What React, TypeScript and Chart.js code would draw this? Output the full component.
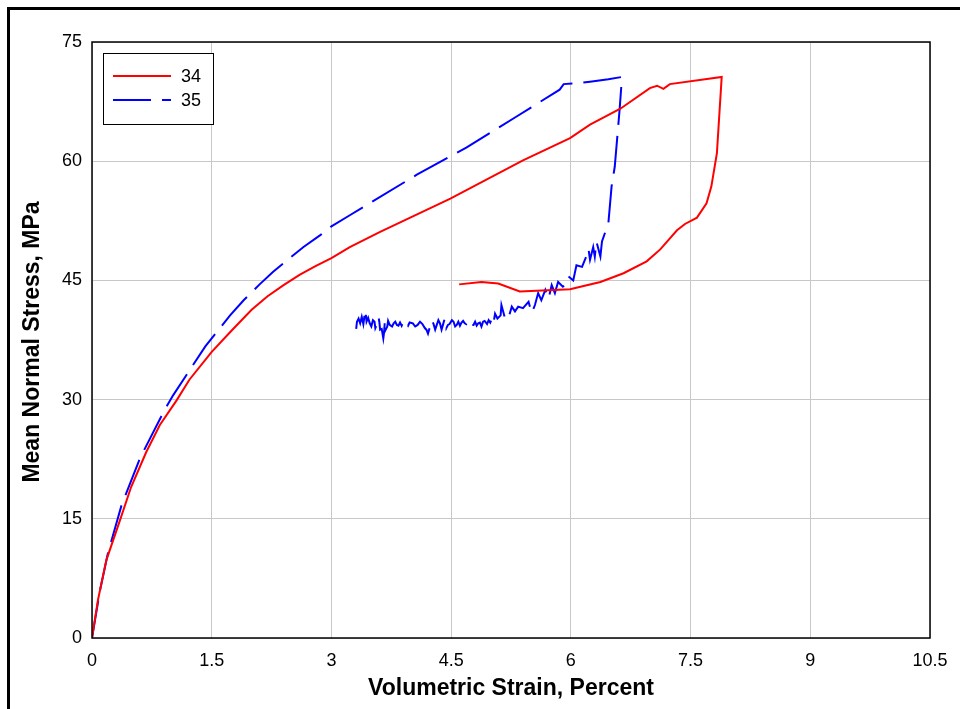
import React, { useEffect, useRef } from "react";
import { Chart, registerables } from "chart.js";

Chart.register(...registerables);

// Series 34 (red, solid): volumetric strain (%) , mean normal stress (MPa)
const strain34 = [0, 0.075, 0.18, 0.35, 0.49, 0.68, 0.85, 1.06, 1.22, 1.5, 1.75, 2.0, 2.2, 2.4, 2.6, 2.8, 3.0, 3.23, 3.61, 4.49, 5.4, 5.99, 6.24, 6.62, 6.99, 7.08, 7.16, 7.24, 7.89, 7.83, 7.76, 7.7, 7.58, 7.43, 7.33, 7.12, 6.95, 6.66, 6.37, 5.99, 5.36, 5.09, 4.88, 4.6];
const stress34 = [0, 4.8, 9.8, 14.8, 19.0, 23.4, 26.8, 29.9, 32.5, 36.0, 38.7, 41.3, 43.0, 44.4, 45.7, 46.8, 47.8, 49.2, 51.1, 55.3, 60.1, 62.9, 64.6, 66.6, 69.2, 69.5, 69.1, 69.7, 70.6, 61.0, 56.8, 54.7, 52.9, 52.1, 51.3, 48.9, 47.4, 45.9, 44.8, 43.9, 43.6, 44.6, 44.8, 44.5];

// Series 35 (blue, dashed)
const strain35 = [0, 0.1, 0.2, 0.37, 0.6, 0.91, 1.02, 1.42, 1.73, 1.9, 2.1, 2.27, 2.44, 2.65, 2.86, 3.0, 3.23, 4.07, 4.69, 5.3, 5.86, 5.91, 6.07, 6.24, 6.47, 6.64, 6.64, 6.61, 6.55, 6.51, 6.47,
  6.39, 6.37, 6.32, 6.3, 6.28, 6.24, 6.22, 6.2, 6.14, 6.07, 6.03, 5.97, 5.95,
  5.9, 5.84, 5.8, 5.76, 5.72, 5.68, 5.63, 5.59, 5.55, 5.51, 5.47, 5.4, 5.34, 5.3, 5.26, 5.21, 5.17, 5.13, 5.12, 5.08, 5.05, 5.03, 5.01, 4.99, 4.97, 4.95, 4.92, 4.9, 4.88, 4.86, 4.84, 4.82, 4.8, 4.78, 4.76, 4.73, 4.71, 4.69, 4.67, 4.65, 4.63, 4.61, 4.59, 4.57, 4.55, 4.53, 4.51, 4.48, 4.46, 4.44, 4.43, 4.42, 4.4, 4.38, 4.36, 4.34, 4.32, 4.3, 4.28, 4.26, 4.23, 4.21, 4.19, 4.17, 4.14, 4.11, 4.08, 4.05, 4.02, 3.98, 3.96, 3.94, 3.92, 3.9, 3.88, 3.86, 3.84, 3.82, 3.8, 3.78, 3.76, 3.73, 3.71, 3.7, 3.68, 3.67, 3.66, 3.65, 3.63, 3.61, 3.6, 3.59, 3.57, 3.55, 3.54, 3.52, 3.5, 3.48, 3.46, 3.44, 3.43, 3.42, 3.41, 3.4, 3.38, 3.36, 3.34, 3.32, 3.31, 3.3];
const stress35 = [0, 6.0, 10.7, 16.7, 22.6, 28.7, 30.6, 36.7, 40.6, 42.5, 44.5, 46.1, 47.5, 49.2, 50.7, 51.8, 53.2, 58.3, 61.7, 65.5, 69.0, 69.7, 69.8, 70.0, 70.3, 70.6, 70.5, 66.4, 59.3, 56.8, 52.2,
  49.9, 48.0, 49.9, 48.0, 49.2, 47.6, 49.0, 48.2, 46.7, 46.9, 45.0, 45.5, 44.6,
  44.2, 44.8, 43.4, 44.4, 42.7, 43.8, 42.5, 43.4, 41.9, 40.9, 42.3, 41.5, 41.7, 41.1, 41.7, 40.0, 40.4, 41.9, 40.6, 40.2, 40.8, 39.6, 40.2, 39.7, 40.0, 39.5, 39.9, 39.8, 39.2, 39.7, 39.6, 39.3, 39.8, 39.4, 39.4, 39.9, 40.0, 39.5, 39.6, 39.9, 39.7, 39.3, 39.8, 39.4, 39.2, 39.8, 40.0, 39.5, 39.4, 39.0, 39.9, 40.2, 39.5, 38.8, 39.6, 40.0, 39.4, 38.8, 39.5, 40.0, 39.0, 38.3, 38.8, 39.0, 39.5, 39.8, 39.4, 39.2, 39.6, 39.7, 39.3, 39.6, 39.4, 39.8, 39.3, 39.7, 39.3, 39.4, 39.8, 39.6, 39.2, 39.4, 39.9, 39.2, 38.8, 40.0, 38.5, 37.7, 38.9, 38.8, 39.8, 40.4, 39.5, 39.0, 39.8, 40.0, 39.2, 39.6, 40.3, 39.8, 40.8, 41.3, 40.2, 39.5, 40.4, 39.6, 40.2, 39.8, 38.9, 38.3];

const seriesNames = ["34", "35"];
const xTitle = "Volumetric Strain, Percent";
const yTitle = "Mean Normal Stress, MPa";

const toPoints = (xs: number[], ys: number[]) => xs.map((x, i) => ({ x, y: ys[i] }));

const FONT = "'Liberation Sans', Arial, sans-serif";

export default function App() {
  const ref = useRef<HTMLCanvasElement | null>(null);

  useEffect(() => {
    if (!ref.current) return;
    const decor = {
      id: "decor",
      afterDraw(chart: any) {
        const ctx = chart.ctx as CanvasRenderingContext2D;
        const a = chart.chartArea;
        ctx.save();
        // outer frame (left/top visible)
        ctx.strokeStyle = "#000";
        ctx.lineWidth = 3;
        ctx.beginPath();
        ctx.moveTo(8.5, 720);
        ctx.lineTo(8.5, 8.5);
        ctx.lineTo(980, 8.5);
        ctx.stroke();
        // plot frame
        ctx.lineWidth = 1.5;
        ctx.strokeRect(a.left, a.top, a.right - a.left, a.bottom - a.top);
        // legend
        const lx = 103, ly = 53, lw = 110, lh = 71;
        ctx.fillStyle = "#fff";
        ctx.fillRect(lx, ly, lw, lh);
        ctx.lineWidth = 1;
        ctx.strokeStyle = "#000";
        ctx.strokeRect(lx + 0.5, ly + 0.5, lw, lh);
        const items = [
          { name: seriesNames[0], color: "#ff0000", dash: [] as number[], y: 76 },
          { name: seriesNames[1], color: "#0000ff", dash: [38, 11], y: 100 },
        ];
        ctx.font = `18px ${FONT}`;
        ctx.textBaseline = "middle";
        items.forEach((it) => {
          ctx.strokeStyle = it.color;
          ctx.lineWidth = 2;
          ctx.setLineDash(it.dash);
          ctx.beginPath();
          ctx.moveTo(113, it.y);
          ctx.lineTo(171, it.y);
          ctx.stroke();
          ctx.setLineDash([]);
          ctx.fillStyle = "#000";
          ctx.textAlign = "left";
          ctx.fillText(it.name, 181, it.y + 1);
        });
        // axis titles
        ctx.fillStyle = "#000";
        ctx.font = `bold 23px ${FONT}`;
        ctx.textAlign = "center";
        ctx.textBaseline = "middle";
        ctx.fillText(xTitle, (a.left + a.right) / 2, 689);
        ctx.translate(33, 342);
        ctx.rotate(-Math.PI / 2);
        ctx.fillText(yTitle, 0, 0);
        ctx.restore();
      },
    };

    const chart = new Chart(ref.current, {
      type: "line",
      data: {
        datasets: [
          {
            label: seriesNames[0],
            data: toPoints(strain34, stress34),
            borderColor: "#ff0000",
            borderWidth: 2,
            pointRadius: 0,
            fill: false,
            tension: 0,
          },
          {
            label: seriesNames[1],
            data: toPoints(strain35, stress35),
            borderColor: "#0000ff",
            borderWidth: 2,
            borderDash: [38, 11],
            pointRadius: 0,
            fill: false,
            tension: 0,
          },
        ],
      },
      options: {
        animation: false,
        responsive: false,
        parsing: false as any,
        layout: { padding: { left: 0, top: 42, right: 30, bottom: 0 } },
        plugins: { legend: { display: false }, tooltip: { enabled: false } },
        scales: {
          x: {
            type: "linear",
            min: 0,
            max: 10.5,
            ticks: {
              stepSize: 1.5,
              color: "#000",
              font: { family: FONT, size: 18 },
              padding: 12,
              maxRotation: 0,
              autoSkip: false,
            },
            grid: { color: "#c8c8c8", lineWidth: 1, drawTicks: false },
            border: { display: false },
            afterFit: (s: any) => {
              s.height = 71;
            },
          },
          y: {
            type: "linear",
            min: 0,
            max: 75,
            ticks: {
              stepSize: 15,
              color: "#000",
              font: { family: FONT, size: 18 },
              padding: 10,
              autoSkip: false,
            },
            grid: { color: "#c8c8c8", lineWidth: 1, drawTicks: false },
            border: { display: false },
            afterFit: (s: any) => {
              s.width = 92;
            },
          },
        },
      },
      plugins: [decor],
    });
    return () => chart.destroy();
  }, []);

  return (
    <div style={{ position: "absolute", left: 0, top: 0, width: 960, height: 709, background: "#fff" }}>
      <canvas ref={ref} width={960} height={709} style={{ display: "block" }} />
    </div>
  );
}
